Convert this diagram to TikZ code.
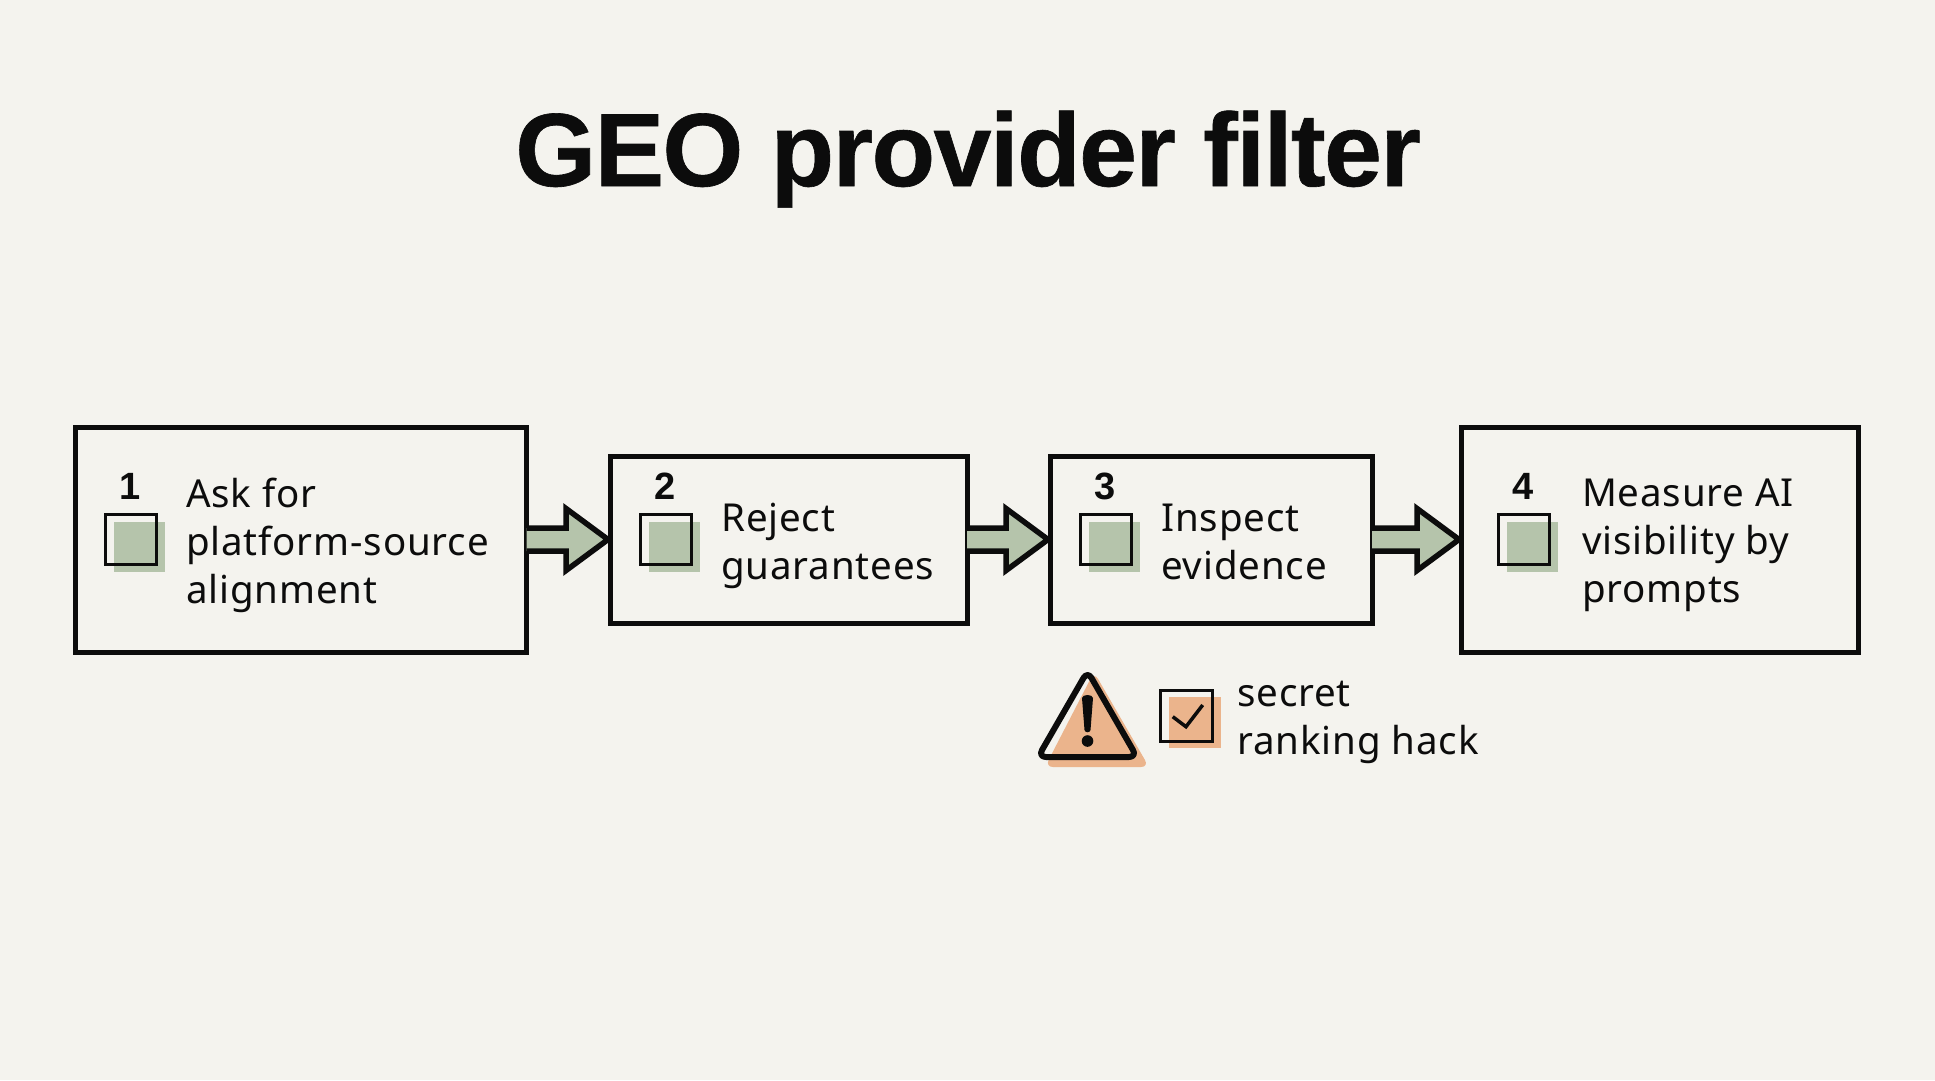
\documentclass[tikz,border=0pt]{standalone}
\usepackage{fontspec}
\setmainfont[LetterSpace=2.2]{Noto Sans}
\newfontfamily\titlefont[LetterSpace=-1.5,FakeBold=0.6]{Liberation Sans Bold}
\newfontfamily\numfont{Liberation Sans Bold}
\usetikzlibrary{calc}
\definecolor{paper}{HTML}{F4F3EE}
\definecolor{sage}{HTML}{B5C4AB}
\definecolor{peach}{HTML}{EBB48C}
\definecolor{ink}{HTML}{0C0C0C}
\tikzset{
  x=1pt,y=-1pt,
  stepbox/.style={draw=ink,line width=5pt,fill=paper,inner sep=0pt,outer sep=0pt,minimum height=#1,anchor=north west},
  iconbox/.style={draw=ink,line width=3pt,minimum width=51pt,minimum height=50pt,inner sep=0pt,outer sep=0pt,anchor=north west},
  iconshade/.style={fill=#1,minimum width=51pt,minimum height=50pt,inner sep=0pt,outer sep=0pt,anchor=north west},
  numlabel/.style={font=\numfont\fontsize{38}{38}\selectfont,text=ink,inner sep=0pt,anchor=center},
  bodytext/.style={font=\fontsize{38.5}{48}\selectfont,text=ink,inner sep=0pt,align=left,anchor=west,
    execute at begin node=\strut,execute at end node=\strut},
  titletext/.style={font=\titlefont\fontsize{104}{104}\selectfont,text=ink,inner sep=0pt,anchor=base}
}
\newcommand{\blockarrow}[2]{%
  \fill[sage] ($(#1.east)+(0,-11.5)$) -- ($(#2.west)+(-44,-11.5)$) -- ($(#2.west)+(-44,-31)$) -- ($(#2.west)+(-2,0)$) -- ($(#2.west)+(-44,31)$) -- ($(#2.west)+(-44,11.5)$) -- ($(#1.east)+(0,11.5)$) -- cycle;
  \draw[draw=ink,line width=5.5pt,line join=miter] ($(#1.east)+(0,-11.5)$) -- ($(#2.west)+(-44,-11.5)$) -- ($(#2.west)+(-44,-31)$) -- ($(#2.west)+(-2,0)$) -- ($(#2.west)+(-44,31)$) -- ($(#2.west)+(-44,11.5)$) -- ($(#1.east)+(0,11.5)$);
}
\newcommand{\stepicon}[2]{%
  \node[iconshade=sage] (#1s) at (#2+8.5,522) {};
  \node[iconbox] (#1i) at (#2,514) {};
}
\begin{document}
\begin{tikzpicture}
\useasboundingbox (0,0) rectangle (1935,1080);
\fill[paper] (0,0) rectangle (1935,1080);
\node[titletext] (title) at (968,186) {GEO provider filter};

\node[stepbox=225pt,minimum width=451pt] (b1) at (75.5,427) {};
\node[stepbox=167pt,minimum width=357pt] (b2) at (610,456) {};
\node[stepbox=167pt,minimum width=322pt] (b3) at (1050,456) {};
\node[stepbox=225pt,minimum width=397pt] (b4) at (1461,427) {};

\stepicon{a}{105}
\stepicon{c}{640}
\stepicon{d}{1080}
\stepicon{e}{1498}

\node[numlabel] (n1) at (130,486) {1};
\node[numlabel] (n2) at (665,486) {2};
\node[numlabel] (n3) at (1105,486) {3};
\node[numlabel] (n4) at (1523,486) {4};

\node[bodytext] (t1) at (186,548) {Ask for\\platform-source\\alignment};
\node[bodytext] (t2) at (721,548) {Reject\\guarantees};
\node[bodytext] (t3) at (1161,549) {Inspect\\evidence};
\node[bodytext] (t4) at (1582,548) {Measure AI\\visibility by\\prompts};

\blockarrow{b1}{b2}
\blockarrow{b2}{b3}
\blockarrow{b3}{b4}

% warning
\fill[peach,rounded corners=8pt] (1094,672) -- (1149,767) -- (1045,767) -- cycle;
\draw[ink,line width=6pt,rounded corners=8pt,line join=round] (1087.5,671) -- (1137,757) -- (1038,757) -- cycle;
\fill[ink] (1082,698) .. controls (1082,694) and (1093,694) .. (1093,698) -- (1090.5,730) .. controls (1090,733) and (1085,733) .. (1084.5,730) -- cycle;
\fill[ink] (1087.5,741) circle (5.8);

\node[iconshade=peach,minimum width=52pt,minimum height=51pt] (ws) at (1169,697) {};
\node[iconbox,minimum width=52pt,minimum height=51pt] (wi) at (1160.5,690) {};
\draw[ink,line width=3.5pt] (1172.7,716.7) -- (1186,726.7) -- (1202.7,705);
\node[bodytext] (wt) at (1237,725.4) {secret\\ranking hack};
\end{tikzpicture}
\end{document}
